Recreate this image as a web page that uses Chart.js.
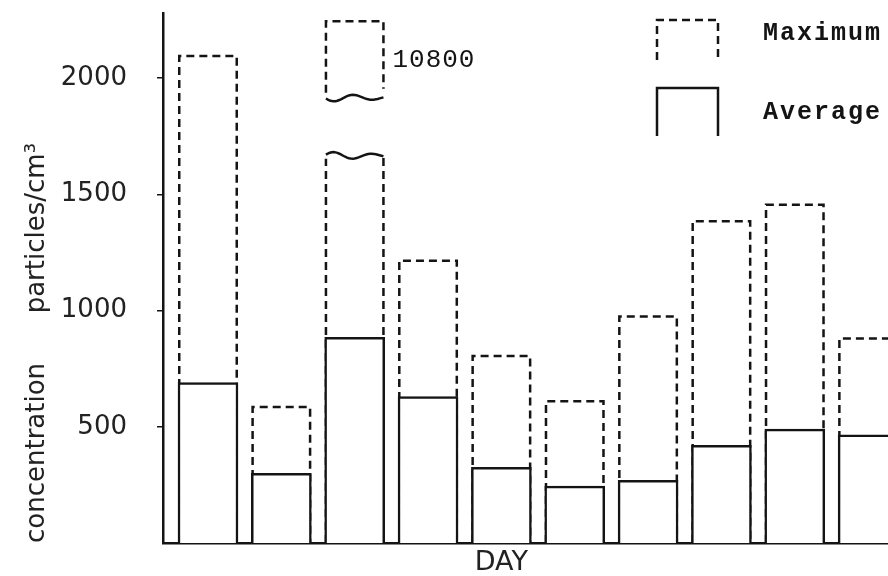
<!DOCTYPE html>
<html>
<head>
<meta charset="utf-8">
<script src="https://cdn.jsdelivr.net/npm/chart.js@4.4.1/dist/chart.umd.min.js"></script>
<style>
  html, body { margin: 0; padding: 0; background: #fff; overflow: hidden; }
  #wrap { width: 888px; height: 576px; position: relative; }
</style>
</head>
<body>
<div id="wrap"><canvas id="c" width="888" height="576"></canvas></div>
<script>
// ---- data ----
const days = [1, 2, 3, 4, 5, 6, 7, 8, 9, 10];
const maximum = [2100, 590, 10800, 1220, 810, 615, 980, 1390, 1460, 885];
const average = [690, 300, 885, 630, 325, 245, 270, 420, 490, 465];
const yTicks = [500, 1000, 1500, 2000];
const seriesNames = ['Maximum', 'Average'];
const axisTitleY = 'concentration      particles/cm\u00B3';
const axisTitleX = 'DAY';

// broken-axis settings for values beyond the axis (data units)
const yMax = 2280;
const breakLow = 1670, breakHigh = 1920, breakTop = 2250;

const INK = '#141414';
const LW = 2.5;

function wave(ctx, l, r, y0, amp, phase) {
  ctx.beginPath();
  const n = 30;
  for (let k = 0; k <= n; k++) {
    const t = k / n;
    const xx = l + (r - l) * t;
    const yy = y0 + amp * Math.sin(phase + t * Math.PI * 3) * (1 - t * 0.6);
    if (k === 0) ctx.moveTo(xx, yy); else ctx.lineTo(xx, yy);
  }
  ctx.stroke();
}

const overlay = {
  id: 'overlay',
  afterDatasetDraw(chart, args) {
    if (args.index !== 0) return;
    const ctx = chart.ctx;
    const ys = chart.scales.y;
    const meta = chart.getDatasetMeta(0);
    ctx.save();
    ctx.strokeStyle = INK;
    ctx.lineWidth = LW;
    meta.data.forEach((bar, i) => {
      const p = bar.getProps(['x', 'y', 'base', 'width'], true);
      const l = p.x - p.width / 2 + LW / 2;
      const r = p.x + p.width / 2 - LW / 2;
      ctx.setLineDash([8, 5]);
      if (maximum[i] > yMax) {
        const yl = ys.getPixelForValue(breakLow);
        const yb = ys.getPixelForValue(breakHigh);
        const yt = ys.getPixelForValue(breakTop);
        // lower part sides
        ctx.beginPath();
        ctx.moveTo(l, p.base); ctx.lineTo(l, yl + 4);
        ctx.moveTo(r, p.base); ctx.lineTo(r, yl);
        ctx.stroke();
        // upper part
        ctx.beginPath();
        ctx.moveTo(l, yb - 4); ctx.lineTo(l, yt + LW / 2); ctx.lineTo(r, yt + LW / 2); ctx.lineTo(r, yb - 8);
        ctx.stroke();
        ctx.setLineDash([]);
        wave(ctx, l, r, yl + 1, -4, 0.3);
        wave(ctx, l, r, yb + 1, 4, 0.2);
        // real value label
        ctx.fillStyle = INK;
        ctx.font = '26px "Liberation Mono", "DejaVu Sans Mono", monospace';
        try { ctx.letterSpacing = '1px'; } catch (e) {}
        ctx.textAlign = 'left';
        ctx.textBaseline = 'middle';
        ctx.fillText(String(maximum[i]), r + 9, (yt + yb) / 2 + 2);
        try { ctx.letterSpacing = '0px'; } catch (e) {}
      } else {
        ctx.beginPath();
        ctx.moveTo(l, p.base);
        ctx.lineTo(l, p.y + LW / 2);
        ctx.lineTo(r, p.y + LW / 2);
        ctx.lineTo(r, p.base);
        ctx.stroke();
      }
    });
    ctx.restore();
  },
  afterDraw(chart) {
    const ctx = chart.ctx;
    const xs = chart.scales.x;
    const area = chart.chartArea;
    ctx.save();
    // x axis title
    ctx.fillStyle = '#222';
    ctx.font = '27px "DejaVu Sans", sans-serif';
    ctx.textAlign = 'center';
    ctx.textBaseline = 'middle';
    ctx.fillText(axisTitleX, xs.getPixelForValue(5), area.bottom + 20);
    // legend
    ctx.strokeStyle = INK;
    ctx.lineWidth = LW;
    const bx = 657, bw = 61;
    ctx.setLineDash([8, 5]);
    ctx.beginPath();
    ctx.moveTo(bx, 60); ctx.lineTo(bx, 20); ctx.lineTo(bx + bw, 20); ctx.lineTo(bx + bw, 60);
    ctx.stroke();
    ctx.setLineDash([]);
    ctx.beginPath();
    ctx.moveTo(bx, 136); ctx.lineTo(bx, 88); ctx.lineTo(bx + bw, 88); ctx.lineTo(bx + bw, 136);
    ctx.stroke();
    ctx.fillStyle = INK;
    ctx.font = 'bold 25px "Liberation Mono", "DejaVu Sans Mono", monospace';
    try { ctx.letterSpacing = '2px'; } catch (e) {}
    ctx.textAlign = 'left';
    ctx.fillText(seriesNames[0], 763, 34);
    ctx.fillText(seriesNames[1], 763, 113);
    ctx.restore();
  }
};

const ctx = document.getElementById('c').getContext('2d');
new Chart(ctx, {
  type: 'bar',
  data: {
    datasets: [
      {
        label: seriesNames[0],
        data: days.map((d, i) => ({ x: d, y: maximum[i] > yMax ? breakLow : maximum[i] })),
        backgroundColor: 'rgba(0,0,0,0)',
        borderWidth: 0,
        barThickness: 60,
        grouped: false,
        order: 2
      },
      {
        label: seriesNames[1],
        data: days.map((d, i) => ({ x: d, y: average[i] })),
        backgroundColor: '#ffffff',
        borderColor: INK,
        borderWidth: LW,
        borderSkipped: 'bottom',
        barThickness: 60,
        grouped: false,
        order: 1
      }
    ]
  },
  options: {
    responsive: false,
    animation: false,
    devicePixelRatio: 1,
    layout: { padding: { top: 13, left: 0, right: 0, bottom: 0 } },
    plugins: { legend: { display: false }, tooltip: { enabled: false } },
    scales: {
      x: {
        type: 'linear',
        min: 0.3865,
        max: 10.271,
        offset: false,
        grid: { display: false, offset: false },
        border: { display: true, color: INK, width: LW },
        ticks: { display: false },
        afterFit(scale) { scale.height = 33; scale.paddingLeft = 0; scale.paddingRight = 0; }
      },
      y: {
        min: 0,
        max: yMax,
        afterBuildTicks(scale) { scale.ticks = yTicks.map(v => ({ value: v })); },
        grid: { drawOnChartArea: false, drawTicks: true, tickLength: 6, color: INK, lineWidth: 1.5 },
        border: { display: true, color: INK, width: LW },
        ticks: {
          color: '#222',
          padding: 30,
          font: { family: '"DejaVu Sans", sans-serif', size: 26 },
          callback: (v) => String(v)
        },
        title: {
          display: true,
          text: axisTitleY,
          align: 'start',
          color: '#222',
          font: { family: '"DejaVu Sans", sans-serif', size: 26 },
          padding: { top: 22, bottom: 0 }
        },
        afterFit(scale) { scale.width = 163; scale.paddingTop = 0; scale.paddingBottom = 0; }
      }
    }
  },
  plugins: [overlay]
});
</script>
</body>
</html>
